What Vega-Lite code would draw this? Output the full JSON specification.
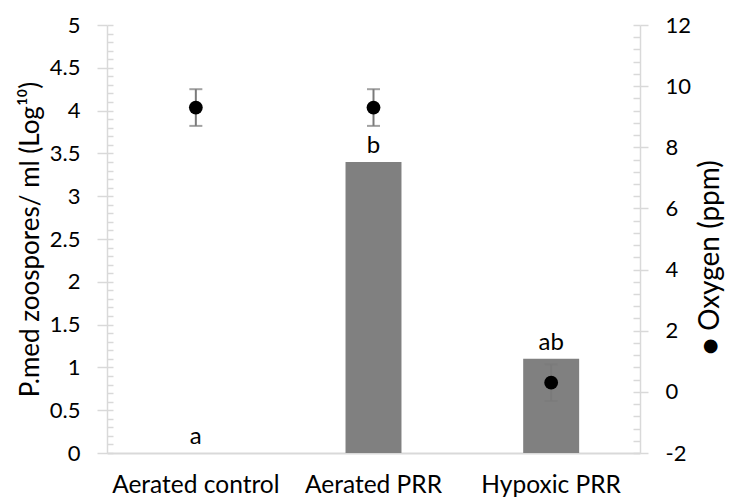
{
  "$schema": "https://vega.github.io/schema/vega-lite/v6.json",
  "width": 533,
  "height": 428,
  "autosize": {"type": "none"},
  "padding": {"left": 107, "top": 25, "right": 89, "bottom": 46},
  "background": "white",
  "config": {
    "view": {"stroke": null},
    "font": "Lato",
    "axis": {
      "labelFont": "Lato",
      "titleFont": "Lato",
      "labelColor": "#000000",
      "titleColor": "#000000",
      "titleFontWeight": "normal",
      "domainColor": "#d9d9d9",
      "tickColor": "#d9d9d9",
      "domainWidth": 1.5,
      "tickWidth": 1.5,
      "grid": false,
      "labelOverlap": false,
      "labelFontSize": 22,
      "titleFontSize": 26
    }
  },
  "data": {
    "values": [
      {"treatment": "Aerated control", "count": 0, "letter": "a", "oxygen": 9.3, "oxLow": 8.7, "oxHigh": 9.9},
      {"treatment": "Aerated PRR", "count": 3.4, "letter": "b", "oxygen": 9.3, "oxLow": 8.7, "oxHigh": 9.9},
      {"treatment": "Hypoxic PRR", "count": 1.1, "letter": "ab", "oxygen": 0.3, "oxLow": -0.3, "oxHigh": 0.9}
    ]
  },
  "encoding": {
    "x": {
      "field": "treatment",
      "type": "nominal",
      "sort": null,
      "scale": {"paddingInner": 0, "paddingOuter": 0},
      "axis": {"title": null, "ticks": false, "labelAngle": 0, "labelPadding": 20, "labelFontSize": 24.5, "domainWidth": 2}
    }
  },
  "layer": [
    {
      "encoding": {
        "y": {
          "field": "count",
          "type": "quantitative",
          "scale": {"domain": [0, 5], "nice": false, "zero": true},
          "axis": {
            "orient": "left",
            "title": "P.med zoospores/ ml (Log¹⁰)",
            "values": [0, 0.5, 1, 1.5, 2, 2.5, 3, 3.5, 4, 4.5, 5],
            "labelExpr": "'' + datum.value",
            "tickSize": 10,
            "labelPadding": 17,
            "titlePadding": 6
          }
        }
      },
      "layer": [
        {"mark": {"type": "bar", "color": "#808080", "width": {"band": 0.315}}},
        {
          "mark": {"type": "text", "baseline": "alphabetic", "dy": -9, "fontSize": 24, "color": "#000000", "font": "Lato"},
          "encoding": {"text": {"field": "letter"}}
        }
      ]
    },
    {
      "mark": {"type": "point", "opacity": 0},
      "encoding": {
        "y": {
          "field": "count",
          "type": "quantitative",
          "scale": {"domain": [0, 5], "nice": false, "zero": true},
          "axis": {
            "orient": "left",
            "title": null,
            "labels": false,
            "domain": false,
            "tickSize": -6,
            "values": [0, 0.1, 0.2, 0.3, 0.4, 0.5, 0.6, 0.7, 0.8, 0.9, 1, 1.1, 1.2, 1.3, 1.4, 1.5, 1.6, 1.7, 1.8, 1.9, 2, 2.1, 2.2, 2.3, 2.4, 2.5, 2.6, 2.7, 2.8, 2.9, 3, 3.1, 3.2, 3.3, 3.4, 3.5, 3.6, 3.7, 3.8, 3.9, 4, 4.1, 4.2, 4.3, 4.4, 4.5, 4.6, 4.7, 4.8, 4.9, 5]
          }
        }
      }
    },
    {
      "layer": [
        {
          "mark": {
            "type": "errorbar",
            "ticks": {"color": "#7a7a7a", "size": 13, "thickness": 2},
            "rule": {"color": "#7a7a7a", "strokeWidth": 2}
          },
          "encoding": {
            "y": {
              "field": "oxLow",
              "type": "quantitative",
              "scale": {"domain": [-2, 12], "nice": false, "zero": false},
              "axis": {
                "orient": "right",
                "title": "● Oxygen (ppm)",
                "values": [-2, 0, 2, 4, 6, 8, 10, 12],
                "labelExpr": "'' + datum.value",
                "tickSize": 8,
                "labelPadding": 17,
                "titleAngle": 270,
                "titleBaseline": "top",
                "titleFontSize": 28,
                "titleY": 232,
                "titlePadding": 6
              }
            },
            "y2": {"field": "oxHigh"}
          }
        },
        {
          "mark": {"type": "point", "filled": true, "color": "#000000", "size": 190, "opacity": 1},
          "encoding": {"y": {"field": "oxygen", "type": "quantitative"}}
        }
      ]
    },
    {
      "mark": {"type": "point", "opacity": 0},
      "encoding": {
        "y": {
          "field": "oxygen",
          "type": "quantitative",
          "scale": {"domain": [-2, 12], "nice": false, "zero": false},
          "axis": {
            "orient": "right",
            "title": null,
            "labels": false,
            "domain": false,
            "tickSize": -7,
            "values": [-2, -1.6, -1.2, -0.8, -0.4, 0, 0.4, 0.8, 1.2, 1.6, 2, 2.4, 2.8, 3.2, 3.6, 4, 4.4, 4.8, 5.2, 5.6, 6, 6.4, 6.8, 7.2, 7.6, 8, 8.4, 8.8, 9.2, 9.6, 10, 10.4, 10.8, 11.2, 11.6, 12]
          }
        }
      }
    }
  ],
  "resolve": {"scale": {"y": "independent"}}
}
